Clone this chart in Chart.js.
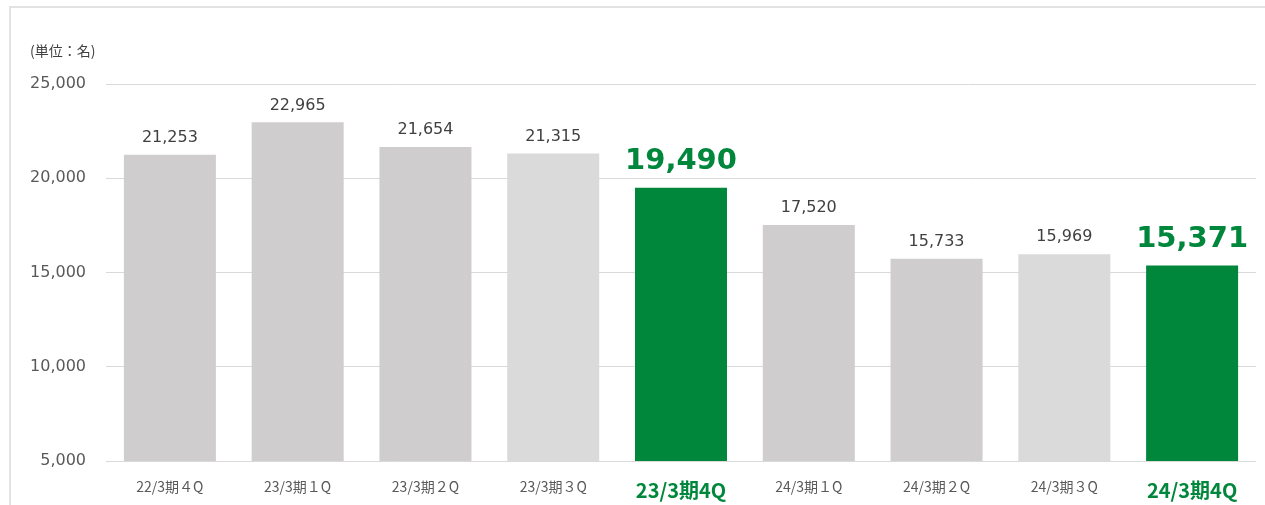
<!DOCTYPE html>
<html>
<head>
<meta charset="utf-8">
<script src="https://cdn.jsdelivr.net/npm/chart.js@4.4.1/dist/chart.umd.min.js"></script>
<style>
  html, body { margin: 0; padding: 0; background: #fff; }
  #wrap { position: relative; width: 1265px; height: 505px; overflow: hidden; }
  #frame { position: absolute; left: 9px; top: 6px; right: -5px; bottom: -5px;
           border-left: 2px solid #e2e2e2; border-top: 2px solid #e2e2e2; }
  canvas { position: absolute; left: 0; top: 0; }
</style>
</head>
<body>
<div id="wrap">
  <div id="frame"></div>
  <canvas id="chart1" width="1265" height="505"></canvas>
</div>
<script>
// chart data
const labels = ["22/3期４Q", "23/3期１Q", "23/3期２Q", "23/3期３Q", "23/3期4Q",
                "24/3期１Q", "24/3期２Q", "24/3期３Q", "24/3期4Q"];
const members = [21253, 22965, 21654, 21315, 19490, 17520, 15733, 15969, 15371];
const highlight = [false, false, false, false, true, false, false, false, true];
const yTicks = [5000, 10000, 15000, 20000, 25000];
const unitLabel = "(単位：名)";

const green = '#00873c';
const grayDark = '#cfcdcd';
const grayLight = '#dadada';

const barColors = labels.map(function (l, i) {
    if (highlight[i]) return green;
    return l.indexOf('３Q') >= 0 ? grayLight : grayDark;
});

// value labels over bars + unit label
const valueLabels = {
    id: 'valueLabels',
    afterDatasetsDraw(chart) {
        const ctx = chart.ctx;
        const meta = chart.getDatasetMeta(0);
        ctx.save();
        ctx.textAlign = 'center';
        ctx.textBaseline = 'middle';
        meta.data.forEach(function (bar, i) {
            const txt = members[i].toLocaleString('en-US');
            if (highlight[i]) {
                ctx.font = 'bold 29px "DejaVu Sans"';
                const w = ctx.measureText(txt).width;
                const y = bar.y - 26;
                ctx.fillStyle = '#fff';
                ctx.fillRect(bar.x - w / 2 - 14, y - 16, w + 28, 32);
                ctx.fillStyle = green;
                ctx.fillText(txt, bar.x, y);
            } else {
                ctx.font = '16px "DejaVu Sans"';
                ctx.fillStyle = '#404040';
                ctx.fillText(txt, bar.x, bar.y - 17);
            }
        });
        ctx.font = '14px "Noto Sans CJK JP"';
        ctx.fillStyle = '#404040';
        ctx.textAlign = 'left';
        ctx.fillText(unitLabel, 30, 51);
        ctx.restore();
    }
};

new Chart(document.getElementById('chart1').getContext('2d'), {
    type: 'bar',
    data: {
        labels: labels,
        datasets: [{
            data: members,
            backgroundColor: barColors,
            borderWidth: 0,
            categoryPercentage: 1.0,
            barPercentage: 0.72
        }]
    },
    options: {
        responsive: false,
        animation: false,
        layout: { padding: { top: 84, right: 9, left: 0, bottom: 0 } },
        plugins: {
            legend: { display: false },
            tooltip: { enabled: false }
        },
        scales: {
            x: {
                grid: { display: false },
                border: { display: false },
                afterFit: function (scale) { scale.height = 44; },
                ticks: {
                    padding: 9,
                    autoSkip: false,
                    maxRotation: 0,
                    color: function (c) { return highlight[c.index] ? green : '#595959'; },
                    font: function (c) {
                        return highlight[c.index]
                            ? { family: '"Noto Sans CJK JP"', size: 20, weight: 'bold' }
                            : { family: '"Noto Sans CJK JP"', size: 14 };
                    }
                }
            },
            y: {
                min: 5000,
                max: 25000,
                afterFit: function (scale) { scale.width = 106; },
                afterBuildTicks: function (scale) {
                    scale.ticks = yTicks.map(function (v) { return { value: v }; });
                },
                grid: { color: '#d9d9d9', lineWidth: 1, drawTicks: false },
                border: { display: false },
                ticks: {
                    padding: 20,
                    color: '#595959',
                    font: { family: '"DejaVu Sans"', size: 16 },
                    callback: function (v) { return v.toLocaleString('en-US'); }
                }
            }
        }
    },
    plugins: [valueLabels]
});
</script>
</body>
</html>
